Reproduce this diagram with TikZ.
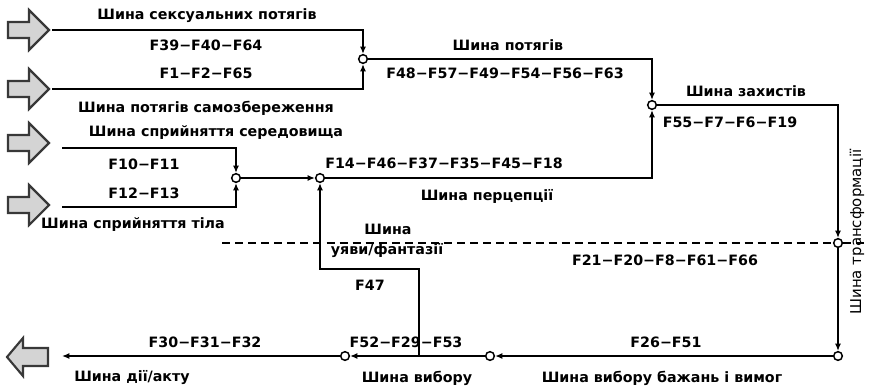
\documentclass[tikz,border=0pt]{standalone}
\usepackage{fontspec}
\setmainfont{DejaVu Sans}
\usetikzlibrary{arrows.meta}
\begin{document}
\begin{tikzpicture}[x=0.75pt,y=-0.75pt,
  bus/.style={line width=1.35pt},
  arr/.style={-{Latex[length=5.5pt,width=4.6pt]}},
  dashline/.style={line width=1.3pt,dash pattern=on 6pt off 3.8pt},
  junc/.style={circle,draw,fill=white,line width=1.1pt,inner sep=0pt,minimum size=6.5pt},
  lbl/.style={font=\bfseries\fontsize{10.7}{12}\selectfont,inner sep=0pt},
  rlbl/.style={font=\fontsize{11.2}{12}\selectfont,inner sep=0pt},
  blockarrow/.style={fill=black!17,draw=black!78,line width=1.6pt,line join=miter},
  rarrow/.pic={\path[blockarrow] (-41,-8) -- (-20,-8) -- (-20,-20) -- (0,0) -- (-20,20) -- (-20,8) -- (-41,8) -- cycle;},
  larrow/.pic={\path[blockarrow] (41,-9) -- (16,-9) -- (16,-19) -- (0,0) -- (16,19) -- (16,9) -- (41,9) -- cycle;}
]
\useasboundingbox (0,0) rectangle (870,387);

% block arrows
\pic at (49,30) {rarrow};
\pic at (49,89) {rarrow};
\pic at (49,143) {rarrow};
\pic at (49,205) {rarrow};
\pic at (7,357) {larrow};

% line ends
\coordinate (s1) at (52,30);
\coordinate (s2) at (52,89);
\coordinate (s3) at (62,148);
\coordinate (s4) at (62,207);
\coordinate (e1) at (62,356);
\coordinate (j) at (419,356);
\coordinate (k) at (419,269);
\coordinate (d1) at (222,243);
\coordinate (d2) at (869,243);

% junctions
\node[junc] (c1) at (363,59) {};
\node[junc] (c2) at (236,178) {};
\node[junc] (c3) at (320,178) {};
\node[junc] (c4) at (652,105) {};
\node[junc] (c5) at (838,243) {};
\node[junc] (c6) at (838,356) {};
\node[junc] (c7) at (490,356) {};
\node[junc] (c8) at (345,356) {};

% connectors
\draw[bus,arr] (s1) -| (c1);
\draw[bus,arr] (s2) -| (c1);
\draw[bus,arr] (s3) -| (c2);
\draw[bus,arr] (s4) -| (c2);
\draw[bus,arr] (c2) -- (c3);
\draw[bus,arr] (c1) -| (c4);
\draw[bus,arr] (c3) -| (c4);
\draw[bus,arr] (c4) -| (c5);
\draw[bus,arr] (c5) -- (c6);
\draw[bus,arr] (c6) -- (c7);
\draw[bus,arr] (c7) -- (c8);
\draw[bus,arr] (c8) -- (e1);
\draw[bus,arr] (j) -- (k) -| (c3);
\draw[dashline] (d1) -- (c5);
\draw[dashline] (c5) -- (d2);

% labels
\node[lbl] (t1) at (207,16) {Шина сексуальних потягів};
\node[lbl] (t2) at (206,45) {F39−F40−F64};
\node[lbl] (t3) at (206,73) {F1−F2−F65};
\node[lbl] (t4) at (206,108) {Шина потягів самозбереження};
\node[lbl] (t5) at (216,133) {Шина сприйняття середовища};
\node[lbl] (t6) at (144,164) {F10−F11};
\node[lbl] (t7) at (144,193) {F12−F13};
\node[lbl] (t8) at (133,225) {Шина сприйняття тіла};
\node[lbl] (t9) at (508,45) {Шина потягів};
\node[lbl] (t10) at (505,73) {F48−F57−F49−F54−F56−F63};
\node[lbl] (t11) at (746,91) {Шина захистів};
\node[lbl] (t12) at (730,122) {F55−F7−F6−F19};
\node[lbl] (t13) at (444,163) {F14−F46−F37−F35−F45−F18};
\node[lbl] (t14) at (487,196) {Шина перцепції};
\node[lbl] (t15) at (388,229) {Шина};
\node[lbl] (t16) at (387,251) {уяви/фантазії};
\node[lbl] (t17) at (370,285) {F47};
\node[lbl] (t18) at (665,260) {F21−F20−F8−F61−F66};
\node[lbl] (t19) at (205,342) {F30−F31−F32};
\node[lbl] (t20) at (406,342) {F52−F29−F53};
\node[lbl] (t21) at (666,342) {F26−F51};
\node[lbl] (t22) at (132,378) {Шина дії/акту};
\node[lbl] (t23) at (417,378) {Шина вибору};
\node[lbl] (t24) at (662,378) {Шина вибору бажань і вимог};
\node[rlbl,rotate=90] (t25) at (857,232) {Шина трансформації};
\end{tikzpicture}
\end{document}
